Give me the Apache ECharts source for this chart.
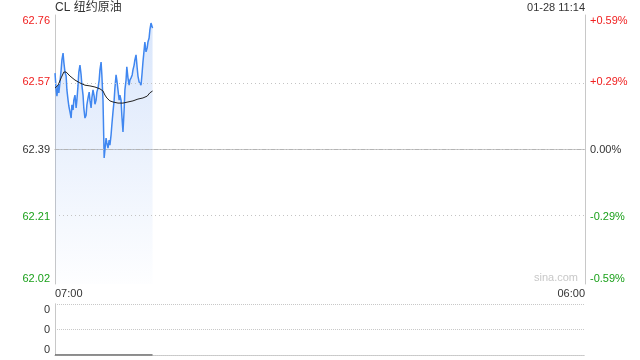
<!DOCTYPE html>
<html>
<head>
<meta charset="utf-8">
<script src="https://cdn.jsdelivr.net/npm/echarts@6/dist/echarts.min.js"></script>
<style>html,body{margin:0;padding:0;background:#fff;}#c{width:640px;height:360px;}</style>
</head>
<body>
<div id="c"></div>
<script>
const titleText = 'CL 纽约原油';
const timeText = '01-28 11:14';
const prevClose = 62.39;
const priceMin = 62.022;
const priceMax = 62.758;
const gridPrices = [62.206, 62.574];
const priceLabels = ['62.02', '62.21', '62.39', '62.57', '62.76'];
const pctLabels = ['-0.59%', '-0.29%', '0.00%', '+0.29%', '+0.59%'];
const xLabels = ['07:00', '06:00'];
const volLabels = ['0', '0', '0'];
const totalMinutes = 1380;

const times = [0,3,5,8,10,13,16,18,21,23,26,29,31,34,36,39,42,44,47,49,52,55,57,60,62,65,68,70,73,75,78,81,83,86,89,91,94,96,99,102,104,107,109,112,115,117,120,122,125,128,130,133,135,138,141,143,146,148,151,154,156,159,161,164,167,169,172,174,177,180,182,185,187,190,193,195,198,201,203,206,208,211,214,216,219,221,224,227,229,232,234,237,240,242,245,247,250,254];
const prices = [62.599,62.553,62.536,62.566,62.545,62.575,62.608,62.635,62.654,62.629,62.602,62.591,62.553,62.525,62.509,62.493,62.476,62.512,62.498,62.525,62.539,62.504,62.525,62.566,62.602,62.621,62.594,62.566,62.539,62.504,62.476,62.484,62.512,62.531,62.547,62.525,62.504,62.531,62.553,62.536,62.514,62.525,62.547,62.558,62.580,62.608,62.629,62.594,62.525,62.367,62.389,62.421,62.408,62.394,62.416,62.402,62.430,62.457,62.493,62.525,62.558,62.594,62.580,62.553,62.525,62.539,62.525,62.484,62.438,62.498,62.553,62.580,62.616,62.586,62.566,62.580,62.586,62.594,62.608,62.621,62.635,62.649,62.613,62.591,62.575,62.580,62.566,62.602,62.629,62.662,62.684,62.657,62.668,62.684,62.695,62.717,62.736,62.722];
const avgTimes = [0,8,16,23,29,39,52,65,78,91,104,117,125,130,135,143,151,164,177,190,203,216,229,240,247,254];
const avgPrices = [62.558,62.566,62.586,62.602,62.602,62.591,62.580,62.572,62.566,62.564,62.561,62.556,62.550,62.539,62.531,62.523,62.520,62.517,62.517,62.520,62.523,62.528,62.531,62.536,62.545,62.550];
const volumes = [0,0,0,0,0,0,0,0,0,0,0,0,0,0,0,0,0,0,0,0,0,0,0,0,0,0,0,0,0,0,0,0,0,0,0,0,0,0,0,0,0,0,0,0,0,0,0,0,0,0,0,0,0,0,0,0,0,0,0,0,0,0,0,0,0,0,0,0,0,0,0,0,0,0,0,0,0,0,0,0,0,0,0,0,0,0,0,0,0,0,0,0,0,0,0,0,0,0];

const FONT = '"Liberation Sans", Arial, "Noto Sans CJK SC", sans-serif';
const RED = '#f02020';
const GREEN = '#1aa01a';
const DARK = '#333';
const BORDER = '#c8c8c8';

function labelColor(v) {
  return v > 0 ? RED : (v < 0 ? GREEN : DARK);
}

const chart = echarts.init(document.getElementById('c'), null, {renderer: 'canvas'});
chart.setOption({
  animation: false,
  backgroundColor: '#fff',
  textStyle: {fontFamily: FONT},
  grid: [
    {left: 55, top: 15, width: 530, height: 269, containLabel: false},
    {left: 55, top: 304, width: 530, height: 51, containLabel: false}
  ],
  xAxis: [
    {
      type: 'value', gridIndex: 0, min: 0, max: totalMinutes, interval: totalMinutes,
      axisLine: {show: true, lineStyle: {color: BORDER, width: 1}},
      axisTick: {show: false},
      splitLine: {show: false},
      axisLabel: {
        show: true, margin: 4, fontSize: 11, color: DARK, fontFamily: FONT,
        alignMinLabel: 'left', alignMaxLabel: 'right',
        formatter: function (v) { return v === 0 ? xLabels[0] : xLabels[1]; }
      }
    },
    {
      type: 'value', gridIndex: 0, position: 'top', min: 0, max: totalMinutes,
      axisLine: {show: true, lineStyle: {color: BORDER, width: 1}},
      axisTick: {show: false}, axisLabel: {show: false}, splitLine: {show: false}
    },
    {
      type: 'value', gridIndex: 1, min: 0, max: totalMinutes,
      axisLine: {show: true, lineStyle: {color: BORDER, width: 1, type: 'dotted'}},
      axisTick: {show: false}, axisLabel: {show: false}, splitLine: {show: false}
    },
    {
      type: 'value', gridIndex: 1, position: 'top', min: 0, max: totalMinutes,
      axisLine: {show: true, lineStyle: {color: BORDER, width: 1, type: 'dotted'}},
      axisTick: {show: false}, axisLabel: {show: false}, splitLine: {show: false}
    }
  ],
  yAxis: [
    {
      type: 'value', gridIndex: 0, min: priceMin, max: priceMax, show: false,
      splitLine: {show: false}
    },
    {
      type: 'value', gridIndex: 0, position: 'left', min: -2, max: 2, interval: 1,
      axisLine: {show: true, lineStyle: {color: BORDER, width: 1}},
      axisTick: {show: false}, splitLine: {show: false},
      axisLabel: {
        margin: 5, fontSize: 11, fontFamily: FONT,
        verticalAlignMinLabel: 'bottom', verticalAlignMaxLabel: 'top',
        formatter: function (v) { return priceLabels[Math.round(v) + 2]; },
        color: function (v) { return labelColor(Math.round(Number(v))); }
      }
    },
    {
      type: 'value', gridIndex: 0, position: 'right', min: -2, max: 2, interval: 1,
      axisLine: {show: true, lineStyle: {color: BORDER, width: 1}},
      axisTick: {show: false}, splitLine: {show: false},
      axisLabel: {
        margin: 5, fontSize: 11, fontFamily: FONT,
        verticalAlignMinLabel: 'bottom', verticalAlignMaxLabel: 'top',
        formatter: function (v) { return pctLabels[Math.round(v) + 2]; },
        color: function (v) { return labelColor(Math.round(Number(v))); }
      }
    },
    {
      type: 'value', gridIndex: 1, position: 'left', min: 0, max: 2, interval: 1,
      axisLine: {show: true, lineStyle: {color: BORDER, width: 1}},
      axisTick: {show: false},
      splitLine: {show: true, lineStyle: {color: BORDER, width: 1, type: 'dotted'}},
      axisLabel: {
        margin: 5, fontSize: 11, color: DARK, fontFamily: FONT,
        verticalAlignMinLabel: 'bottom', verticalAlignMaxLabel: 'top',
        formatter: function (v) { return volLabels[Math.round(v)]; }
      }
    },
    {
      type: 'value', gridIndex: 1, position: 'right', min: 0, max: 2, interval: 1,
      axisLine: {show: true, lineStyle: {color: BORDER, width: 1}},
      axisTick: {show: false}, axisLabel: {show: false}, splitLine: {show: false}
    }
  ],
  graphic: [
    {type: 'text', left: 55, top: 2, style: {text: titleText, fontSize: 12, fill: DARK, fontFamily: FONT}},
    {type: 'text', right: 55, top: 2, style: {text: timeText, fontSize: 11, fill: DARK, fontFamily: FONT, textAlign: 'right'}},
    {type: 'text', right: 62, top: 272, style: {text: 'sina.com', fontSize: 11, fill: '#c8c8c8', fontFamily: FONT}}
  ],
  series: [
    {
      name: 'price', type: 'line', xAxisIndex: 0, yAxisIndex: 0,
      data: times.map(function (t, i) { return [t, prices[i]]; }),
      showSymbol: false, symbol: 'none', smooth: false,
      lineStyle: {color: '#4087f0', width: 1.5},
      areaStyle: {
        origin: 'start',
        color: new echarts.graphic.LinearGradient(0, 0, 0, 1, [
          {offset: 0, color: 'rgba(60,125,235,0.28)'},
          {offset: 1, color: 'rgba(60,125,235,0.01)'}
        ])
      },
      markLine: {
        silent: true, symbol: 'none', label: {show: false}, animation: false,
        data: [
          {yAxis: gridPrices[0], lineStyle: {color: '#c4c4c4', type: [1, 3], width: 1}},
          {yAxis: gridPrices[1], lineStyle: {color: '#c4c4c4', type: [1, 3], width: 1}},
          {yAxis: prevClose, lineStyle: {color: '#b4b4b4', type: [4, 2, 1, 2], width: 1}}
        ]
      },
      z: 3
    },
    {
      name: 'avg', type: 'line', xAxisIndex: 0, yAxisIndex: 0,
      data: avgTimes.map(function (t, i) { return [t, avgPrices[i]]; }),
      showSymbol: false, symbol: 'none',
      lineStyle: {color: '#222', width: 1}, z: 4
    },
    {
      name: 'volume', type: 'line', xAxisIndex: 2, yAxisIndex: 3,
      data: times.map(function (t, i) { return [t, volumes[i]]; }),
      showSymbol: false, symbol: 'none',
      lineStyle: {color: '#666', width: 1.5}, z: 5
    }
  ]
});
</script>
</body>
</html>
